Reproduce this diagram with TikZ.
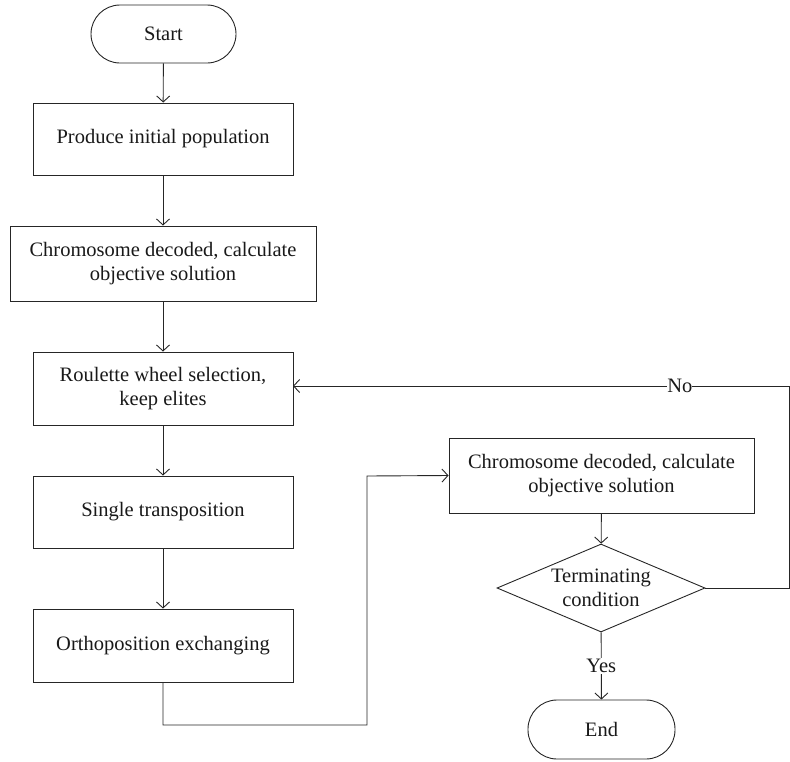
\documentclass[tikz,border=0pt]{standalone}
\usepackage{fontspec}
\setmainfont{Liberation Serif}
\usetikzlibrary{shapes.geometric,arrows.meta}
\begin{document}
\begin{tikzpicture}[x=1pt,y=-1pt,
  every node/.style={font=\fontsize{20.5}{24}\selectfont,text=black!90},
  box/.style={draw=black!85,line width=0.9pt,inner sep=0pt,align=center},
  term/.style={draw=black!85,line width=0.9pt,rounded corners=29pt,inner sep=0pt},
  dec/.style={draw=black!85,line width=0.9pt,diamond,aspect=2.36,inner sep=0pt,align=center},
  flow/.style={draw=black!85,line width=0.9pt,-{Straight Barb[length=6pt,width=13pt]}},
  lbl/.style={fill=white,inner sep=1pt}]
\useasboundingbox (0,0) rectangle (790,761);
\node[term,minimum width=145pt,minimum height=58pt] (start) at (163.5,34) {Start};
\node[box,minimum width=260pt,minimum height=72pt] (b1) at (163,139) {Produce initial population};
\node[box,minimum width=306pt,minimum height=75pt] (b2) at (163,263.5) {Chromosome decoded, calculate\\objective solution};
\node[box,minimum width=260pt,minimum height=73pt] (b3) at (163,388.5) {Roulette wheel selection,\\keep elites};
\node[box,minimum width=260pt,minimum height=72pt] (b4) at (163,512) {Single transposition};
\node[box,minimum width=260pt,minimum height=73pt] (b5) at (163,645.5) {Orthoposition exchanging};
\node[box,minimum width=305pt,minimum height=75pt] (b6) at (601.5,475.5) {Chromosome decoded, calculate\\objective solution};
\node[dec,minimum width=208pt,minimum height=88pt] (d) at (601,588) {Terminating\\condition};
\node[term,minimum width=147pt,minimum height=59pt] (end) at (601.5,729.5) {End};
\coordinate (c1) at (163,725);
\coordinate (c2) at (367,725);
\coordinate (c3) at (367,476);
\coordinate (r1) at (789,588);
\coordinate (r2) at (789,386);
\coordinate (r3) at (293,386);
\draw[flow] (start) -- (b1);
\draw[flow] (b1) -- (b2);
\draw[flow] (b2) -- (b3);
\draw[flow] (b3) -- (b4);
\draw[flow] (b4) -- (b5);
\draw[flow] (b5.south) -- (c1) -- (c2) -- (c3) -- (b6.west);
\draw[flow] (b6) -- (d);
\draw[flow] (d) -- node[lbl] (yes) {Yes} (end);
\draw[flow] (d.east) -- (r1) -- (r2) -- node[lbl,pos=0.22,inner sep=0pt] (no) {No} (r3);
\end{tikzpicture}
\end{document}
